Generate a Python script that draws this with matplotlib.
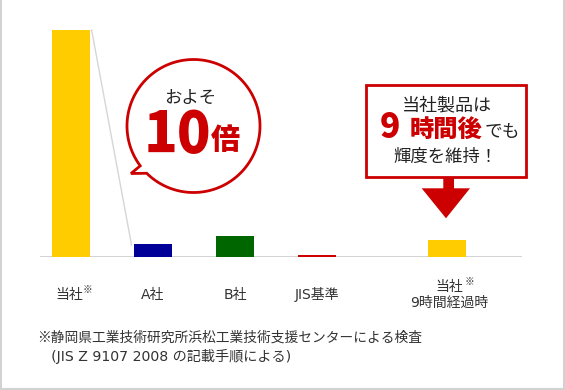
import numpy as np
import matplotlib
matplotlib.use("Agg")
import matplotlib.pyplot as plt
from matplotlib.patches import Polygon, Rectangle

plt.rcParams['font.family'] = ['Noto Sans CJK JP', 'DejaVu Sans']
LATIN = ['DejaVu Sans', 'Noto Sans CJK JP']

# relative luminance (bar heights)
categories = ["当社", "A社", "B社", "JIS基準", "当社"]
values = [227.3, 13.3, 21.6, 2.4, 17.6]
colors = ["#ffcc00", "#000099", "#006600", "#cc0000", "#ffcc00"]
positions = [0, 1, 2, 3, 4.58]
footnote = ["※静岡県工業技術研究所浜松工業技術支援センターによる検査",
            "　(JIS Z 9107 2008 の記載手順による)"]

RED = "#cc0000"
TXT = "#333333"
W, H = 565, 390

fig = plt.figure(figsize=(W / 100, H / 100), dpi=100)
fig.patch.set_facecolor("white")

# bar chart axes: baseline at y=257 px, spans x 40..522 px
base = 257.3
ax = fig.add_axes([40 / W, (H - base) / H, 482 / W, base / H])
ax.set_xlim(-0.378, 5.5)
ax.set_ylim(0, base)
ax.axis("off")
bw = 0.463
ax.bar(positions, values, width=bw, color=colors, zorder=2)
ax.axhline(0, color="#cccccc", lw=1.2, zorder=1)
# connector from the big bar to A社
ax.plot([positions[0] + bw / 2 + 0.02, positions[1] - bw / 2 - 0.03],
        [values[0], values[1] - 1], color="#d6d6d6", lw=1, zorder=1)

# category labels
fp = ("data", "figure pixels")
lab = dict(textcoords="offset pixels", ha="center", va="center", color=TXT)
for i, (p, c) in enumerate(zip(positions, categories)):
    if i == 0:
        ax.annotate(c, (p, H - 295), xycoords=fp, xytext=(-2, 0), fontsize=10, **lab)
        ax.annotate("※", (p, H - 290), xycoords=fp, xytext=(17, 0), fontsize=7, **lab)
    elif i == 4:
        ax.annotate(c, (p, H - 287), xycoords=fp, xytext=(3, 0), fontsize=10, **lab)
        ax.annotate("※", (p, H - 282), xycoords=fp, xytext=(23, 0), fontsize=7, **lab)
        ax.annotate("9時間経過時", (p, H - 303), xycoords=fp, xytext=(3, 0),
                    fontsize=10, family=LATIN, **lab)
    else:
        ax.annotate(c, (p, H - 295), xycoords=fp, xytext=(0, 0), fontsize=10,
                    family=LATIN, **lab)

# overlay in pixel coordinates for callouts, notes and frame
ov = fig.add_axes([0, 0, 1, 1], zorder=5)
ov.set_xlim(0, W)
ov.set_ylim(H, 0)
ov.axis("off")
ov.patch.set_alpha(0)

# speech bubble
cx, cy, r = 193.5, 126, 66.5
t = np.radians(np.linspace(143.2, 134.7 + 360, 200))
pts = np.column_stack([cx + r * np.cos(t), cy + r * np.sin(t)])
pts = np.vstack([pts, [131, 173.5]])
ov.add_patch(Polygon(pts, closed=True, fc="white", ec=RED, lw=2, joinstyle="miter"))
ov.text(190, 97.5, "およそ", ha="center", va="center", fontsize=12.5, color="#222222")
ov.text(177.5, 135, "10", ha="center", va="center", fontsize=40, color=RED,
        fontweight="black")
ov.text(225, 140, "倍", ha="center", va="center", fontsize=21, color=RED,
        fontweight="black")

# note box with arrow
ov.add_patch(Rectangle((366, 85), 160, 92, fc="white", ec=RED, lw=2))
ov.text(447, 105, "当社製品は", ha="center", va="center", fontsize=13, color="#222222")
ov.text(389.5, 128, "9", ha="center", va="center", fontsize=24, color=RED,
        fontweight="black")
ov.text(446, 131, "時間後", ha="center", va="center", fontsize=17.5, color=RED,
        fontweight="black")
ov.text(502, 132.5, "でも", ha="center", va="center", fontsize=12.8, color="#222222")
ov.text(446, 157, "輝度を維持！", ha="center", va="center", fontsize=12.5, color="#222222")
ov.add_patch(Polygon([(443.3, 177), (454, 177), (454, 188.3), (470, 188.3),
                      (446, 218.3), (421.7, 188.3), (443.3, 188.3)],
                     closed=True, fc=RED, ec="none"))

# footnote
ov.text(37, 338, footnote[0], ha="left", va="center", fontsize=9.9, color=TXT)
ov.text(37, 356, footnote[1], ha="left", va="center", fontsize=10.2, color=TXT,
        family=LATIN)

# panel frame (left, right, bottom)
ov.plot([0.8, 0.8, 563.8, 563.8], [0, 388.8, 388.8, 0], color="#d2d2d2", lw=1.5,
        solid_joinstyle="miter")

fig.savefig("out.png", dpi=100, facecolor="white")
